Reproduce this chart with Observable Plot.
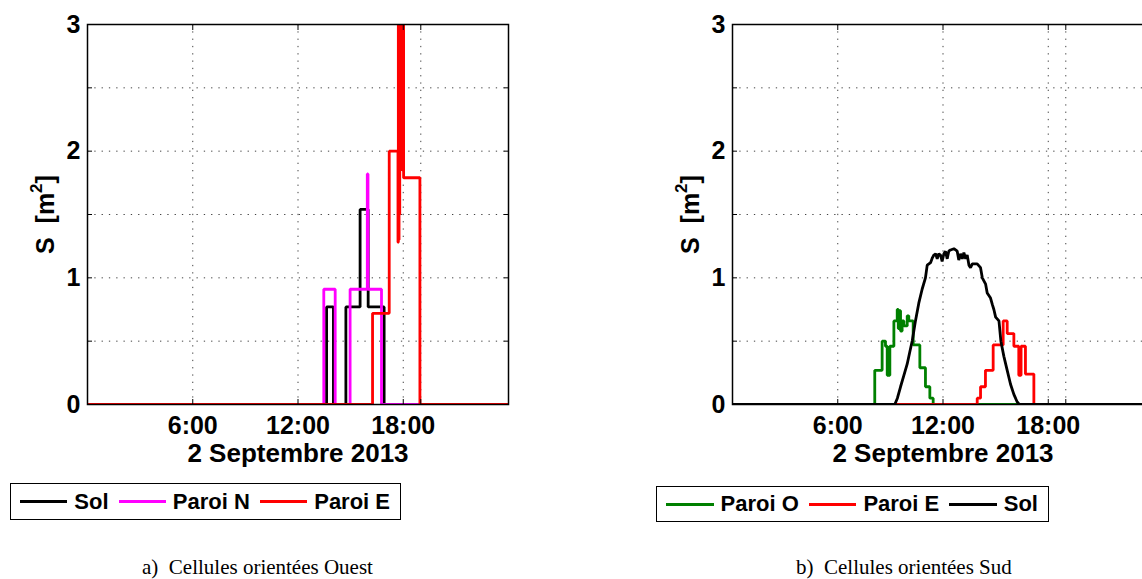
<!DOCTYPE html>
<html><head><meta charset="utf-8">
<script src="https://cdn.jsdelivr.net/npm/d3@7"></script>
<script src="https://cdn.jsdelivr.net/npm/@observablehq/plot@0.6"></script>
<style>
html,body{margin:0;padding:0;background:#fff;}
body{width:1142px;height:579px;overflow:hidden;position:relative;font-family:"Liberation Sans",Arial,sans-serif;}
.chart{position:absolute;top:0;width:520px;height:470px;}
.chart svg{max-width:none !important;}
.legend{position:absolute;border:1.5px solid #000;display:flex;align-items:center;font-weight:bold;font-size:22px;box-sizing:border-box;padding-left:9px;background:#fff;}
.legend .sw{width:48px;height:3px;margin-right:7px;}
.legend .lb{margin-right:10px;white-space:nowrap;}
.caption{position:absolute;font-family:"Liberation Serif","Times New Roman",serif;font-size:21px;line-height:21px;white-space:pre;}
</style></head><body>
<div id="left" class="chart" style="left:0px"></div>
<div id="right" class="chart" style="left:645px"></div>
<div id="legL" class="legend" style="left:10px;top:483px;width:391px;height:37px"></div>
<div id="legR" class="legend" style="left:656px;top:486px;width:393px;height:36px"></div>
<div class="caption" id="capL" style="left:142px;top:557px"></div>
<div class="caption" id="capR" style="left:796px;top:557px"></div>
<script>
// ---------- data ----------
const yTickLabels = [0, 1, 2, 3];
const yGridValues = [0.5, 1, 1.5, 2, 2.5];
const yTickMarks = [0, 0.5, 1, 1.5, 2, 2.5, 3];
const xTickLabels = [6, 12, 18];
const xGridValues = [6, 12, 18, 19];
const yLabelMain = "S\u00a0\u00a0[m";
const yLabelSup = "2";
const yLabelEnd = "]";
const xLabelText = "2 Septembre 2013";
const captionA = "a)  Cellules orientées Ouest";
const captionB = "b)  Cellules orientées Sud";

// a) Cellules orientées Ouest (hours, m²) – step series
const ouestSolT = [0, 13.63, 14.02, 14.73, 15.54, 16.00, 16.91, 24];
const ouestSolV = [0, 0.77, 0, 0.77, 1.54, 0.77, 0, 0];
const ouestNT = [0, 13.47, 14.12, 14.97, 15.95, 15.99, 16.76, 24];
const ouestNV = [0, 0.91, 0, 0.91, 1.82, 0.91, 0, 0];
const ouestET = [0, 16.25, 17.20, 17.70, 17.72, 17.74, 17.76, 17.78, 17.80, 17.83, 17.86, 17.89, 17.92, 17.95, 17.98, 18.02, 18.95, 24];
const ouestEV = [0, 0.72, 2.00, 1.28, 3.40, 1.30, 3.40, 1.50, 3.40, 1.85, 3.40, 1.90, 3.40, 1.85, 3.40, 1.79, 0, 0];

// b) Cellules orientées Sud
const sudOT = [0, 8.11, 8.53, 8.72, 8.82, 8.97, 9.20, 9.39, 9.45, 9.52, 9.58, 9.67, 9.77, 9.96, 10.05, 10.15, 10.30, 10.68, 11.00, 11.25, 11.44, 24];
const sudOV = [0, 0.27, 0.50, 0.46, 0.23, 0.46, 0.66, 0.75, 0.60, 0.74, 0.58, 0.66, 0.62, 0.70, 0.66, 0.66, 0.47, 0.29, 0.14, 0.05, 0, 0];
const sudET = [0, 13.95, 14.14, 14.42, 14.86, 15.43, 15.66, 16.04, 16.32, 16.45, 16.70, 17.18, 24];
const sudEV = [0, 0.05, 0.14, 0.27, 0.47, 0.66, 0.56, 0.46, 0.23, 0.46, 0.24, 0, 0];
const sudSolT = [0, 9.25, 9.40, 9.58, 9.77, 9.96, 10.10, 10.25, 10.43, 10.62, 10.81, 11.00, 11.10, 11.29, 11.40, 11.48, 11.58, 11.67, 11.76, 11.86, 11.95, 12.05, 12.14, 12.24, 12.33, 12.43, 12.62, 12.81, 12.90, 13.00, 13.10, 13.19, 13.29, 13.38, 13.48, 13.57, 13.67, 13.95, 14.14, 14.24, 14.43, 14.52, 14.71, 14.81, 14.90, 15.00, 15.19, 15.30, 15.47, 15.66, 15.85, 16.04, 16.23, 16.35, 24];
const sudSolV = [0, 0, 0.05, 0.14, 0.23, 0.32, 0.41, 0.505, 0.66, 0.80, 0.91, 1.00, 1.10, 1.12, 1.16, 1.18, 1.19, 1.15, 1.19, 1.18, 1.13, 1.19, 1.21, 1.15, 1.21, 1.22, 1.23, 1.21, 1.14, 1.19, 1.15, 1.20, 1.15, 1.18, 1.10, 1.08, 1.11, 1.11, 1.08, 1.00, 0.95, 0.88, 0.84, 0.79, 0.75, 0.69, 0.66, 0.50, 0.38, 0.27, 0.16, 0.08, 0.02, 0, 0];

const seriesA = [
  {name: "Sol", t: ouestSolT, v: ouestSolV, color: "#000000", curve: "step-after"},
  {name: "Paroi N", t: ouestNT, v: ouestNV, color: "#ff00ff", curve: "step-after"},
  {name: "Paroi E", t: ouestET, v: ouestEV, color: "#ff0000", curve: "step-after"}
];
const seriesB = [
  {name: "Paroi O", t: sudOT, v: sudOV, color: "#008000", curve: "step-after"},
  {name: "Paroi E", t: sudET, v: sudEV, color: "#ff0000", curve: "step-after"},
  {name: "Sol", t: sudSolT, v: sudSolV, color: "#000000", curve: "linear"}
];

// ---------- chart ----------
function chart(series) {
  const gridStyle = {stroke: "#222", strokeOpacity: 0.85, strokeDasharray: "1.3,6", strokeWidth: 1};
  const lab = {frameAnchor: "left", rotate: -90, textAnchor: "start", fontWeight: "bold", text: d => d};
  return Plot.plot({
    width: 520, height: 470,
    marginLeft: 87, marginRight: 12, marginTop: 24, marginBottom: 66,
    x: {domain: [0, 24]},
    y: {domain: [0, 3]},
    style: {fontFamily: "'Liberation Sans', Arial, sans-serif", fontWeight: "bold", background: "transparent", overflow: "visible", color: "black", maxWidth: "none"},
    marks: [
      Plot.gridY(yGridValues, gridStyle),
      Plot.gridX(xGridValues, gridStyle),
      ...series.map(s => Plot.line(s.t.map((t, i) => ({t, v: s.v[i]})), {
        x: "t", y: "v", stroke: s.color, strokeWidth: 2.8, curve: s.curve, clip: true, strokeLinejoin: "miter"
      })),
      Plot.axisY(yTickMarks, {anchor: "left", tickSize: -5, fill: "none", label: null}),
      Plot.axisY(yTickMarks, {anchor: "right", tickSize: -5, fill: "none", label: null}),
      Plot.axisX(xGridValues, {anchor: "bottom", tickSize: -5, fill: "none", label: null}),
      Plot.axisX(xGridValues, {anchor: "top", tickSize: -5, fill: "none", label: null}),
      Plot.axisY(yTickLabels, {anchor: "left", tickSize: 0, tickPadding: 7, fontSize: 25, fontWeight: "bold", tickFormat: d3.format("d"), label: null}),
      Plot.axisX(xTickLabels, {anchor: "bottom", tickSize: 0, tickPadding: 12, fontSize: 25, fontWeight: "bold", tickFormat: d => `${d}:00`, label: null}),
      Plot.frame({stroke: "black", strokeWidth: 1.5}),
      Plot.text([yLabelMain], {...lab, dx: -42, dy: 39.5, fontSize: 25}),
      Plot.text([yLabelSup], {...lab, dx: -51, dy: -21.6, fontSize: 17}),
      Plot.text([yLabelEnd], {...lab, dx: -42, dy: -31.1, fontSize: 25}),
      Plot.text([xLabelText], {text: d => d, frameAnchor: "bottom", textAnchor: "middle", lineAnchor: "bottom", dy: 57, fontSize: 26, fontWeight: "bold"})
    ]
  });
}

document.getElementById("left").append(chart(seriesA));
document.getElementById("right").append(chart(seriesB));

function legend(el, series) {
  for (const s of series) {
    const sw = document.createElement("span");
    sw.className = "sw"; sw.style.background = s.color;
    const lb = document.createElement("span");
    lb.className = "lb"; lb.textContent = s.name;
    el.append(sw, lb);
  }
}
legend(document.getElementById("legL"), seriesA);
legend(document.getElementById("legR"), seriesB);
document.getElementById("capL").textContent = captionA;
document.getElementById("capR").textContent = captionB;
</script>
</body></html>
